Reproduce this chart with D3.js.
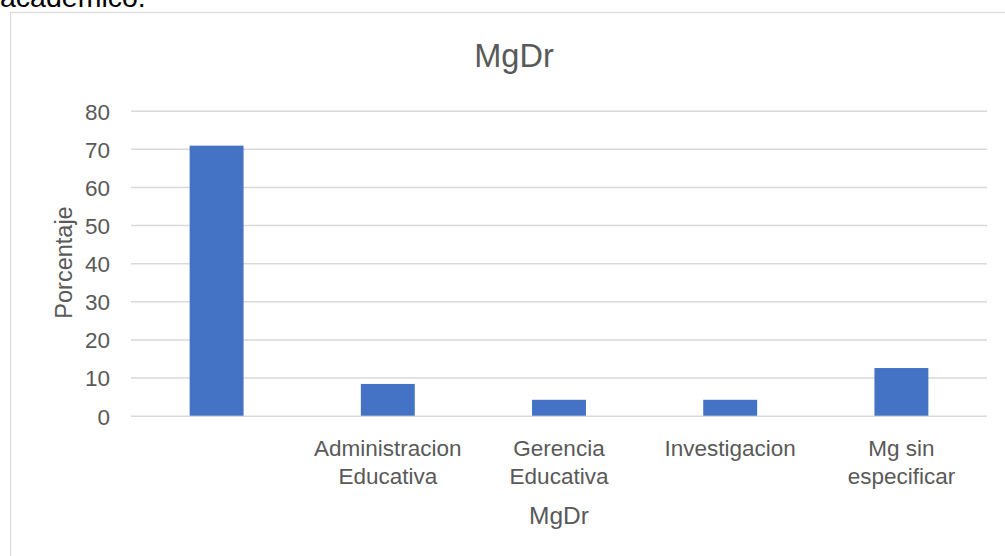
<!DOCTYPE html>
<html>
<head>
<meta charset="utf-8">
<script src="https://cdn.jsdelivr.net/npm/d3@7"></script>
<style>
  html, body { margin: 0; padding: 0; background: #fff; overflow: hidden; }
  svg { display: block; }
  text { font-family: "Liberation Sans", Arial, sans-serif; }
</style>
</head>
<body>
<svg id="chart" width="1005" height="556"></svg>
<script>
const categories = ["", "Administracion\nEducativa", "Gerencia\nEducativa", "Investigacion", "Mg sin\nespecificar"];
const values = [70.83, 8.33, 4.17, 4.17, 12.5];
const yTicks = [0, 10, 20, 30, 40, 50, 60, 70, 80];
const chartTitle = "MgDr";
const xAxisTitle = "MgDr";
const yAxisTitle = "Porcentaje";
const aboveText = "académico.";

const svg = d3.select("#chart");
const plot = { left: 131, right: 987, top: 110.7, bottom: 415.7 };

// Text above chart (partly cut off at the top, as in the reference)
svg.append("text").attr("x", 0).attr("y", 6.5).attr("font-size", 28.5)
  .attr("fill", "#000").text(aboveText);

// Chart border
svg.append("rect").attr("x", 10.5).attr("y", 12.5)
  .attr("width", 1010).attr("height", 560)
  .attr("fill", "#fff").attr("stroke", "#d9d9d9").attr("stroke-width", 1.2);

const idx = categories.map((d, i) => i);
const x = d3.scaleBand().domain(idx).range([plot.left, plot.right])
  .paddingInner(0.685).paddingOuter(0.3425);
const y = d3.scaleLinear().domain([0, 80]).range([plot.bottom, plot.top]);

// Gridlines + tick labels
const yAxis = d3.axisLeft(y).tickValues(yTicks).tickSize(-(plot.right - plot.left)).tickPadding(21).tickFormat(d3.format("d"));
const gy = svg.append("g").attr("transform", `translate(${plot.left},0)`).call(yAxis);
gy.select(".domain").remove();
gy.selectAll(".tick line").attr("stroke", "#d9d9d9").attr("stroke-width", 1.5);
gy.selectAll(".tick text").attr("fill", "#595959").attr("font-size", 22.5)
  .attr("font-family", "Liberation Sans, Arial, sans-serif").attr("dy", "0.37em");

// Bars
svg.append("g").selectAll("rect").data(values).join("rect")
  .attr("x", (d, i) => x(i))
  .attr("y", d => y(d))
  .attr("width", x.bandwidth())
  .attr("height", d => y(0) - y(d))
  .attr("fill", "#4472C4");

// Category labels
const gx = svg.append("g");
categories.forEach((c, i) => {
  const lines = c.split("\n");
  const t = gx.append("text").attr("text-anchor", "middle").attr("fill", "#595959")
    .attr("font-size", 22.5);
  lines.forEach((ln, j) => {
    t.append("tspan").attr("x", x(i) + x.bandwidth() / 2).attr("y", 455.7 + j * 28.6).text(ln);
  });
});

// Title
svg.append("text").attr("x", 514).attr("y", 67).attr("text-anchor", "middle")
  .attr("font-size", 32.5).attr("fill", "#595959").text(chartTitle);

// X axis title
svg.append("text").attr("x", (plot.left + plot.right) / 2).attr("y", 524).attr("text-anchor", "middle")
  .attr("font-size", 24.5).attr("fill", "#595959").text(xAxisTitle);

// Y axis title
svg.append("text").attr("transform", `translate(72,262.5) rotate(-90)`).attr("text-anchor", "middle")
  .attr("font-size", 23.5).attr("fill", "#595959").text(yAxisTitle);
</script>
</body>
</html>
